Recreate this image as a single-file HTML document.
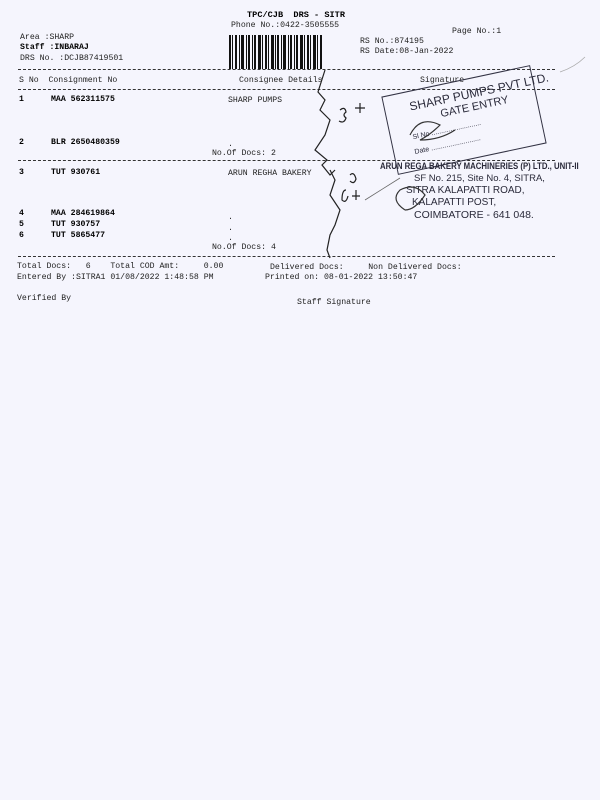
<!DOCTYPE html>
<html><head><meta charset="utf-8"><style>
html,body{margin:0;padding:0}
body{width:600px;height:800px;background:#f5f5fd;position:relative;overflow:hidden;font-family:"Liberation Mono",monospace;font-size:8.2px;color:#222}
.t{position:absolute;white-space:pre;line-height:1}
.b{font-weight:bold;color:#000}
.d{position:absolute;border-top:1px dashed #333;height:0}
.s{position:absolute;white-space:pre;font-family:"Liberation Sans",sans-serif;color:#2a2a3a;line-height:1}
</style></head><body>
<div class="t b" style="left:247px;top:11px;font-size:8.6px">TPC/CJB  DRS - SITR</div>
<div class="t" style="left:231px;top:22px">Phone No.:0422-3505555</div>
<div class="t" style="left:452px;top:28px">Page No.:1</div>
<div class="t" style="left:20px;top:34px">Area :SHARP</div>
<div class="t b" style="left:20px;top:44px">Staff :INBARAJ</div>
<div class="t" style="left:20px;top:55px">DRS No. :DCJB87419501</div>
<div class="t" style="left:360px;top:38px">RS No.:874195</div>
<div class="t" style="left:360px;top:48px">RS Date:08-Jan-2022</div>
<svg style="position:absolute;left:229px;top:35px" width="94" height="34">
<g fill="#111">
<rect x="0" y="0" width="2" height="34"/><rect x="3" y="0" width="1" height="34"/><rect x="6" y="0" width="2" height="34"/><rect x="10" y="0" width="1" height="34"/><rect x="12" y="0" width="3" height="34"/><rect x="17" y="0" width="1" height="34"/><rect x="19" y="0" width="2" height="34"/><rect x="23" y="0" width="1" height="34"/><rect x="25" y="0" width="2" height="34"/><rect x="29" y="0" width="3" height="34"/><rect x="33" y="0" width="1" height="34"/><rect x="36" y="0" width="2" height="34"/><rect x="39" y="0" width="1" height="34"/><rect x="42" y="0" width="3" height="34"/><rect x="46" y="0" width="1" height="34"/><rect x="48" y="0" width="2" height="34"/><rect x="52" y="0" width="1" height="34"/><rect x="54" y="0" width="3" height="34"/><rect x="59" y="0" width="1" height="34"/><rect x="61" y="0" width="2" height="34"/><rect x="65" y="0" width="1" height="34"/><rect x="67" y="0" width="2" height="34"/><rect x="71" y="0" width="3" height="34"/><rect x="75" y="0" width="1" height="34"/><rect x="78" y="0" width="2" height="34"/><rect x="81" y="0" width="1" height="34"/><rect x="84" y="0" width="3" height="34"/><rect x="88" y="0" width="1" height="34"/><rect x="91" y="0" width="2" height="34"/>
</g></svg>
<div class="d" style="left:18px;top:69px;width:537px"></div>
<div class="t" style="left:19px;top:77px">S No  Consignment No</div>
<div class="t" style="left:239px;top:77px">Consignee Details</div>
<div class="t" style="left:420px;top:77px">Signature</div>
<div class="d" style="left:18px;top:89px;width:537px"></div>
<div class="t b" style="left:19px;top:96px">1</div><div class="t b" style="left:51px;top:96px">MAA 562311575</div>
<div class="t" style="left:228px;top:97px">SHARP PUMPS</div>
<div class="t b" style="left:19px;top:139px">2</div><div class="t b" style="left:51px;top:139px">BLR 2650480359</div>
<div class="t" style="left:228px;top:141px">.</div>
<div class="t" style="left:212px;top:150px">No.Of Docs: 2</div>
<div class="d" style="left:18px;top:160px;width:537px"></div>
<div class="t b" style="left:19px;top:169px">3</div><div class="t b" style="left:51px;top:169px">TUT 930761</div>
<div class="t" style="left:228px;top:170px">ARUN REGHA BAKERY</div>
<div class="t b" style="left:19px;top:210px">4</div><div class="t b" style="left:51px;top:210px">MAA 284619864</div>
<div class="t b" style="left:19px;top:221px">5</div><div class="t b" style="left:51px;top:221px">TUT 930757</div>
<div class="t b" style="left:19px;top:232px">6</div><div class="t b" style="left:51px;top:232px">TUT 5865477</div>
<div class="t" style="left:228px;top:214px">.</div><div class="t" style="left:228px;top:225px">.</div><div class="t" style="left:228px;top:235px">.</div>
<div class="t" style="left:212px;top:244px">No.Of Docs: 4</div>
<div class="d" style="left:18px;top:256px;width:537px"></div>
<div class="t" style="left:17px;top:263px">Total Docs:   6    Total COD Amt:     0.00</div>
<div class="t" style="left:270px;top:264px">Delivered Docs:     Non Delivered Docs:</div>
<div class="t" style="left:17px;top:274px">Entered By :SITRA1 01/08/2022 1:48:58 PM</div>
<div class="t" style="left:265px;top:274px">Printed on: 08-01-2022 13:50:47</div>
<div class="t" style="left:17px;top:295px">Verified By</div>
<div class="t" style="left:297px;top:299px">Staff Signature</div>
<!-- stamp 1 -->
<div style="position:absolute;left:388px;top:80px;width:150px;height:78px;border:1.5px solid #334;transform:rotate(-12deg);transform-origin:center"></div>
<div class="s" style="left:408px;top:86px;font-size:12px;transform:rotate(-12deg)">SHARP PUMPS PVT LTD.</div>
<div class="s" style="left:440px;top:102px;font-size:11px;transform:rotate(-12deg)">GATE ENTRY</div>
<div class="s" style="left:412px;top:127px;font-size:7px;transform:rotate(-12deg)">Sl No ..........................</div>
<div class="s" style="left:414px;top:142px;font-size:7px;transform:rotate(-12deg)">Date ..........................</div>
<!-- stamp 2 -->
<div class="s" style="left:380px;top:162px;font-size:9.5px;transform:scaleX(0.82);transform-origin:left top;font-weight:bold">ARUN REGA BAKERY MACHINERIES (P) LTD., UNIT-II</div>
<div class="s" style="left:414px;top:174px;font-size:9.5px">SF No. 215, Site No. 4, SITRA,</div>
<div class="s" style="left:406px;top:186px;font-size:10px">SITRA KALAPATTI ROAD,</div>
<div class="s" style="left:412px;top:198px;font-size:10px">KALAPATTI POST,</div>
<div class="s" style="left:414px;top:210px;font-size:10.5px">COIMBATORE - 641 048.</div>
<svg style="position:absolute;left:0;top:0" width="600" height="800" fill="none" stroke="#222" stroke-width="1.2">
<path d="M325 70 L318 92 L325 100 L320 110 L330 120 L325 135 L315 150 L327 160 L322 165 L330 175 L335 170"/>
<path d="M340 110 q5 -4 6 2 q-4 3 0 6 q-2 6 -7 3 M355 108 h10 M360 103 v10"/>
<path d="M330 170 L335 180 L330 195 L340 210 L335 225 L330 235 L327 250 L330 258"/>
<path d="M350 175 q4 -4 6 4 q-2 6 -6 2 M346 190 q-4 0 -4 10 q4 4 6 -4 M352 196 h8 M356 190 v10"/>
<path d="M410 135 q10 -20 30 -10 q-10 10 -20 15 q20 0 35 -10" stroke="#333"/>
<path d="M405 210 q-15 -10 -5 -20 q15 -8 25 5 q-10 15 -20 15" stroke="#333"/>
<path d="M365 200 L400 178" stroke="#666" stroke-width="0.8"/>
<path d="M560 72 q15 -5 25 -15" stroke="#aaa" stroke-width="0.8"/>
</svg>
</body></html>
